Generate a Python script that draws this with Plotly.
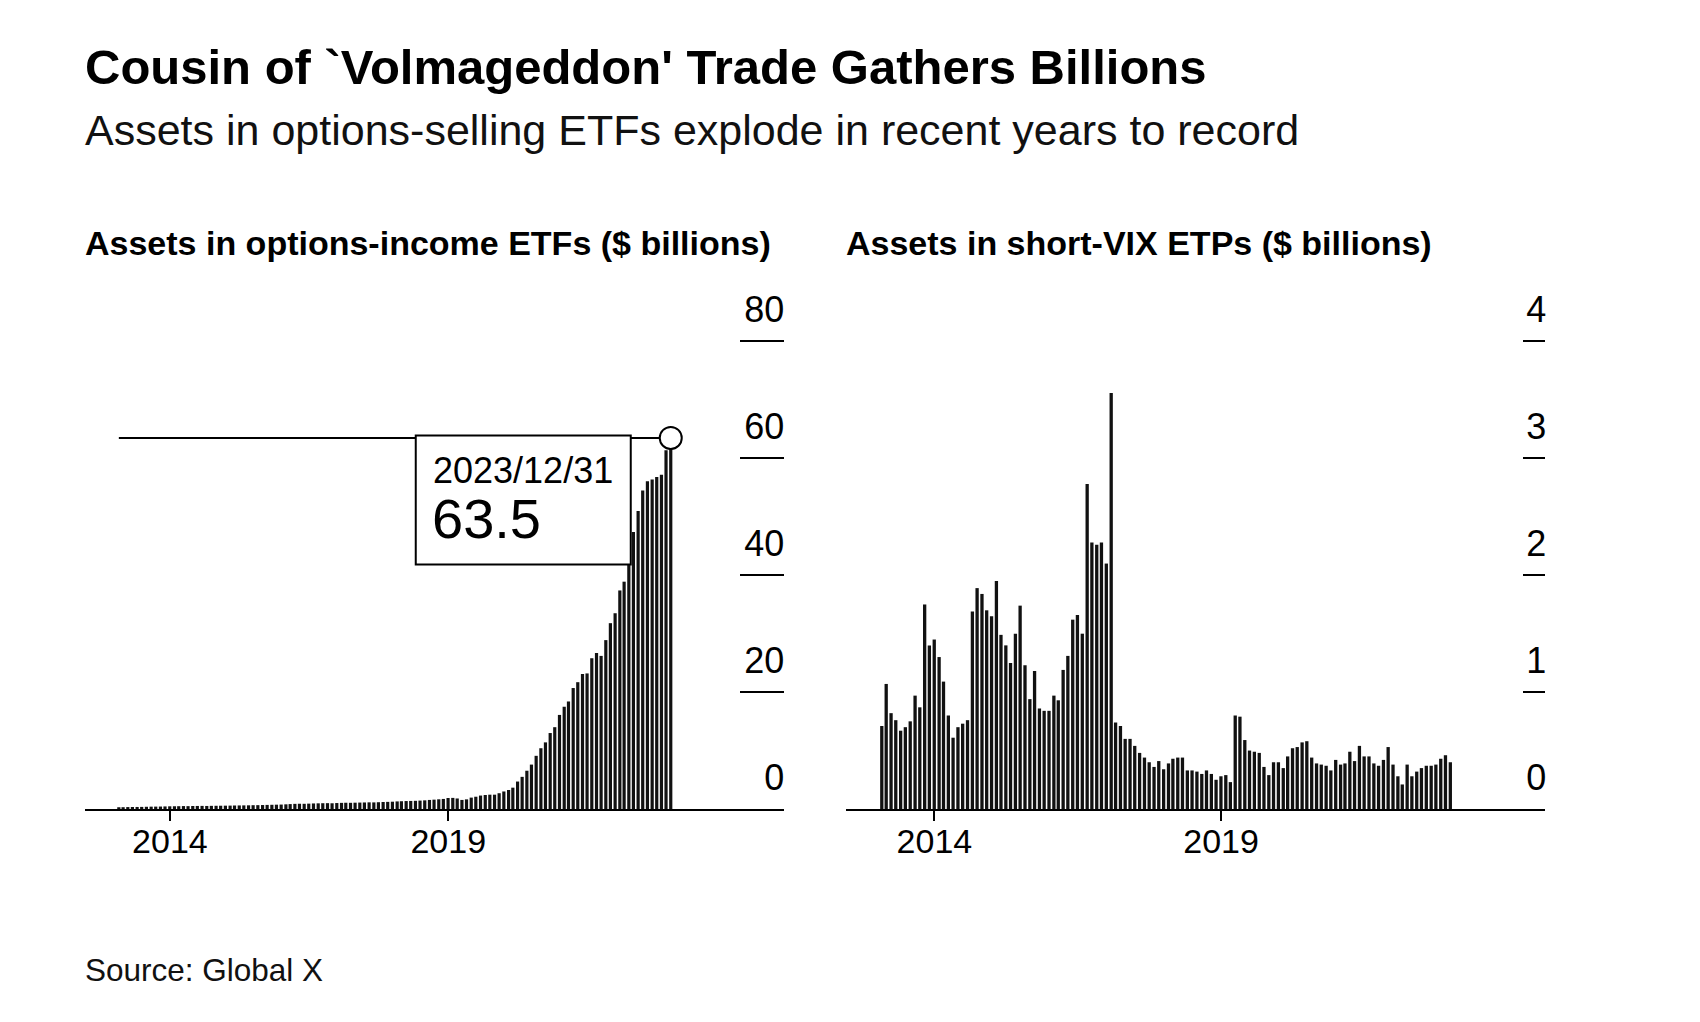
import pandas as pd
import plotly.graph_objects as go

# ---------------- data ----------------
months = pd.date_range(start="2014-01-31", periods=120, freq=pd.offsets.MonthEnd())

options_income = [
    0.30, 0.31, 0.33, 0.34, 0.35, 0.36, 0.38, 0.40, 0.41, 0.42, 0.44, 0.46,
    0.47, 0.48, 0.50, 0.49, 0.51, 0.52, 0.53, 0.52, 0.54, 0.55, 0.56, 0.57,
    0.58, 0.60, 0.61, 0.62, 0.63, 0.65, 0.66, 0.68, 0.70, 0.72, 0.74, 0.76,
    0.80, 0.84, 0.88, 0.90, 0.89, 0.92, 0.95, 0.97, 0.99, 1.00, 0.98, 1.02,
    1.05, 1.07, 1.06, 1.08, 1.10, 1.12, 1.14, 1.13, 1.16, 1.20, 1.22, 1.25,
    1.30, 1.33, 1.36, 1.38, 1.40, 1.44, 1.48, 1.55, 1.60, 1.66, 1.72,
    1.88, 1.90, 1.80, 1.55, 1.65, 1.95, 2.10, 2.30, 2.40, 2.45, 2.45, 2.70,
    3.00, 3.25, 3.65, 4.70, 5.50, 6.55, 7.60, 9.10,
    10.4, 11.4, 13.0, 14.0, 16.1, 17.5, 18.4, 20.7, 21.7, 23.1, 23.2, 25.8,
    26.7, 26.2, 28.9, 31.8, 33.5, 37.4, 38.9, 44.6, 47.4, 51.0, 54.5, 56.1,
    56.4, 56.8, 57.2, 61.4, 63.5,
]

short_vix = [
    0.71, 1.07, 0.82, 0.76, 0.67, 0.70, 0.75, 0.97, 0.87, 1.75, 1.40, 1.45,
    1.30, 1.09, 0.80, 0.61, 0.70, 0.73, 0.76, 1.69, 1.89, 1.84, 1.70, 1.65,
    1.95, 1.49, 1.40, 1.25, 1.50, 1.74, 1.23, 0.94, 1.18, 0.86, 0.84, 0.84,
    0.97, 0.93, 1.19, 1.31, 1.62, 1.66, 1.50, 2.78, 2.28, 2.26, 2.28, 2.10,
    3.56, 0.74, 0.71, 0.60, 0.60, 0.54, 0.48, 0.44, 0.40, 0.36, 0.41, 0.34,
    0.39, 0.43, 0.44, 0.44, 0.33, 0.33, 0.32, 0.30, 0.33, 0.30, 0.25, 0.28,
    0.29, 0.23, 0.80, 0.79, 0.59, 0.50, 0.49, 0.48, 0.36, 0.29, 0.40, 0.40,
    0.35, 0.45, 0.52, 0.53, 0.57, 0.58, 0.44, 0.39, 0.38, 0.37, 0.33, 0.42,
    0.38, 0.39, 0.49, 0.41, 0.54, 0.45, 0.45, 0.39, 0.37, 0.42, 0.53, 0.38,
    0.28, 0.21, 0.38, 0.28, 0.32, 0.35, 0.37, 0.37, 0.38, 0.43, 0.46, 0.40,
]

left_yticks = [0, 20, 40, 60, 80]
right_yticks = [0, 1, 2, 3, 4]
year_tickvals = ["2015-01-01", "2020-01-01"]
year_ticktext = ["2014", "2019"]

title = "Cousin of `Volmageddon' Trade Gathers Billions"
subtitle = "Assets in options-selling ETFs explode in recent years to record"
left_title = "Assets in options-income ETFs ($ billions)"
right_title = "Assets in short-VIX ETPs ($ billions)"
source = "Source: Global X"

# ---------------- figure ----------------
FONT = "Liberation Sans, Arial, Helvetica, sans-serif"
W, H = 1700, 1022
OFF = 8  # page body margin
BAR = "#111111"


def px_x(p):
    return (p - OFF) / W


def px_y(p):
    return 1 - (p - OFF) / H


fig = go.Figure()

fig.add_trace(go.Bar(x=months, y=options_income, marker_color=BAR,
                     marker_line_width=0, xaxis="x", yaxis="y",
                     showlegend=False, hoverinfo="skip"))
fig.add_trace(go.Bar(x=months, y=short_vix, marker_color=BAR,
                     marker_line_width=0, xaxis="x2", yaxis="y2",
                     showlegend=False, hoverinfo="skip"))

# highlight of the latest value
last_date = months[-1]
last_val = options_income[-1]
fig.add_trace(go.Scatter(x=[months[0], last_date], y=[last_val, last_val],
                         mode="lines", line=dict(color="black", width=2),
                         xaxis="x", yaxis="y", showlegend=False, hoverinfo="skip"))
fig.add_trace(go.Scatter(x=[last_date], y=[last_val], mode="markers",
                         marker=dict(size=22, color="white",
                                     line=dict(color="black", width=2)),
                         xaxis="x", yaxis="y", showlegend=False, hoverinfo="skip"))

fig.add_shape(type="rect", xref="x", yref="y",
              xsizemode="pixel", ysizemode="pixel",
              xanchor=last_date, yanchor=last_val,
              x0=-255, x1=-40, y0=2.5, y1=-126.5,
              line=dict(color="black", width=2), fillcolor="white", layer="above")

fig.add_annotation(x=last_date, y=last_val, xref="x", yref="y",
                   text=last_date.strftime("%Y/%m/%d"), showarrow=False,
                   xanchor="left", yanchor="middle", xshift=-240, yshift=-33,
                   font=dict(family=FONT, size=36, color="black"))
fig.add_annotation(x=last_date, y=last_val, xref="x", yref="y",
                   text=f"{last_val:.1f}", showarrow=False,
                   xanchor="left", yanchor="middle", xshift=-241, yshift=-81,
                   font=dict(family=FONT, size=56, color="black"))

# text
fig.add_annotation(x=px_x(83), y=px_y(67), xref="paper", yref="paper",
                   text=f"<b>{title}</b>", showarrow=False,
                   xanchor="left", yanchor="middle",
                   font=dict(family=FONT, size=49, color="black"))
fig.add_annotation(x=px_x(83), y=px_y(130), xref="paper", yref="paper",
                   text=subtitle, showarrow=False,
                   xanchor="left", yanchor="middle",
                   font=dict(family=FONT, size=43, color="#111111"))
fig.add_annotation(x=px_x(83), y=px_y(243), xref="paper", yref="paper",
                   text=f"<b>{left_title}</b>", showarrow=False,
                   xanchor="left", yanchor="middle",
                   font=dict(family=FONT, size=34, color="black"))
fig.add_annotation(x=px_x(844), y=px_y(243), xref="paper", yref="paper",
                   text=f"<b>{right_title}</b>", showarrow=False,
                   xanchor="left", yanchor="middle",
                   font=dict(family=FONT, size=34, color="black"))
fig.add_annotation(x=px_x(83), y=px_y(970), xref="paper", yref="paper",
                   text=source, showarrow=False,
                   xanchor="left", yanchor="middle",
                   font=dict(family=FONT, size=31.5, color="#111111"))

PPU = (809 - 341.5) / 80  # pixels per unit (left)
ydom = [px_y(809), px_y(809 - 80.5 * PPU)]

xaxis_common = dict(type="date", showgrid=False, zeroline=False, automargin=False,
                    showline=True, linecolor="black", linewidth=2,
                    ticks="outside", ticklen=10, tickwidth=2, tickcolor="black",
                    tickvals=year_tickvals, ticktext=year_ticktext,
                    ticklabelstandoff=-9,
                    tickfont=dict(family=FONT, size=34, color="black"),
                    fixedrange=True)
yaxis_common = dict(side="right", showgrid=False, zeroline=False, showline=False,
                    automargin=False,
                    ticks="inside", tickwidth=2, tickcolor="black",
                    ticklabelposition="inside", ticklabelshift=-32,
                    ticklabeloverflow="allow",
                    tickfont=dict(family=FONT, size=36, color="black"),
                    domain=ydom, fixedrange=True)

fig.update_layout(
    width=W, height=H, autosize=False,
    margin=dict(l=0, r=0, t=0, b=0, autoexpand=False),
    paper_bgcolor="white", plot_bgcolor="white",
    bargap=0.25,
    showlegend=False,
    xaxis=dict(**xaxis_common, domain=[px_x(85), px_x(784)], anchor="y",
               range=["2013-06-23", "2026-01-12"]),
    xaxis2=dict(**xaxis_common, domain=[px_x(846), px_x(1545)], anchor="y2",
                range=["2013-06-17", "2025-08-25"]),
    yaxis=dict(**yaxis_common, anchor="x", range=[0, 80.5],
               tickvals=left_yticks, ticklen=44, ticklabelstandoff=-40),
    yaxis2=dict(**yaxis_common, anchor="x2", range=[0, 4.025],
                tickvals=right_yticks, ticklen=22, ticklabelstandoff=-19),
)

fig.write_html("out.html", config={"responsive": False})
